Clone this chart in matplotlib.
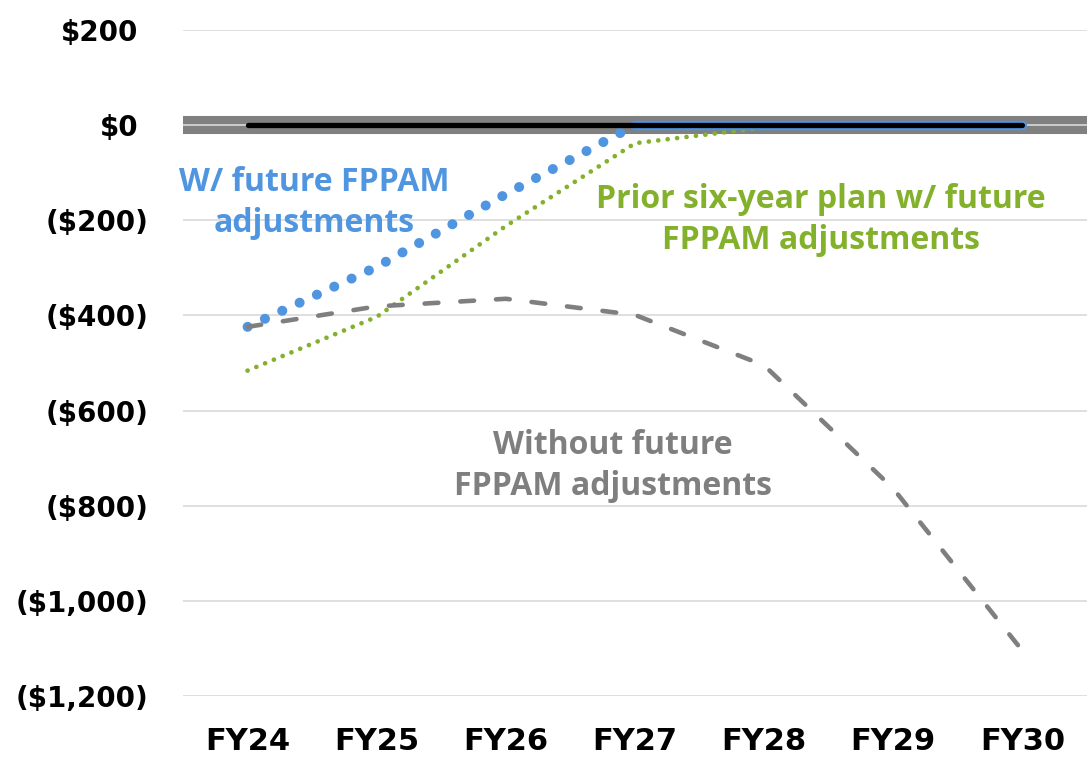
import matplotlib
matplotlib.use("Agg")
import matplotlib.pyplot as plt
import matplotlib.transforms as mtransforms
import numpy as np

years = ["FY24", "FY25", "FY26", "FY27", "FY28", "FY29", "FY30"]
with_fppam = [-424, -298, -145, 0, 0, 0, 0]
prior_plan = [-516, -403, -212, -38, -5, 0, 0]
without_fppam = [-424, -381, -365, -399, -505, -764, -1105]
baseline = [0, 0, 0, 0, 0, 0, 0]
yticks = [200, 0, -200, -400, -600, -800, -1000, -1200]

BLUE = "#4F95E0"
GREEN = "#84B12C"
GRAY = "#7F7F7F"
GRID = "#D9D9D9"

fig = plt.figure(figsize=(10.91, 7.58), dpi=100)
ax = fig.add_axes([183 / 1091, 1 - 696 / 758, (1087 - 183) / 1091, (696 - 30) / 758])

x = np.arange(len(years))
ax.set_xlim(-0.5, len(years) - 0.5)
ax.set_ylim(-1200, 200)

for t in yticks:
    if t != 0:
        ax.axhline(t, color=GRID, lw=1.2, zorder=1)
ax.axhline(0, color="#808080", lw=13, zorder=2, solid_capstyle="butt")
ax.axhline(0, color=GRID, lw=1.2, zorder=3)

ax.plot(x, prior_plan, color=GREEN, lw=3.4, linestyle=(0, (0.01, 2.0)),
        dash_capstyle="round", zorder=4)

k = with_fppam.index(0)
ax.plot(x[:k + 1], with_fppam[:k + 1], color=BLUE, lw=7.2,
        linestyle=(0, (0.01, 1.9)), dash_capstyle="round", zorder=5)
ax.plot(x[k:], with_fppam[k:], color=BLUE, lw=6.8, solid_capstyle="round", zorder=5)

ax.plot(x, without_fppam, color=GRAY, lw=3.3, linestyle=(0, (3.0, 4.8)),
        dash_capstyle="round", zorder=6)

ax.plot(x, baseline, color="black", lw=3.8, solid_capstyle="round", zorder=7)

for s in ax.spines.values():
    s.set_visible(False)

ax.set_xticks(x)
ax.set_xticklabels(years, fontsize=22, fontweight="bold", family="DejaVu Sans")
ax.set_yticks(yticks)
ylabels = [f"${v:,}" if v >= 0 else f"(${-v:,})" for v in yticks]
ax.set_yticklabels(ylabels, fontsize=20, fontweight="bold")
ax.tick_params(axis="both", length=0)
ax.tick_params(axis="y", pad=25)
ax.tick_params(axis="x", pad=22)

for lab in ax.get_yticklabels():
    if not lab.get_text().startswith("("):
        lab.set_transform(lab.get_transform() +
                          mtransforms.ScaledTranslation(-10 / 100, 0, fig.dpi_scale_trans))

tfont = dict(family="Open Sans", fontweight="bold", fontsize=23, ha="center",
             va="center", linespacing=1.3)

def px_to_data(px, py):
    inv = ax.transData.inverted()
    return inv.transform((px, 758 - py))

fig.canvas.draw()
bx, by = px_to_data(314, 203)
ax.text(bx, by, "W/ future FPPAM\nadjustments", color=BLUE, zorder=8, **tfont)
gx, gy = px_to_data(821, 220)
ax.text(gx, gy, "Prior six-year plan w/ future\nFPPAM adjustments", color=GREEN, zorder=8, **tfont)
wx, wy = px_to_data(613, 466)
ax.text(wx, wy, "Without future\nFPPAM adjustments", color=GRAY, zorder=8, **tfont)

fig.savefig("out.png", dpi=100)
